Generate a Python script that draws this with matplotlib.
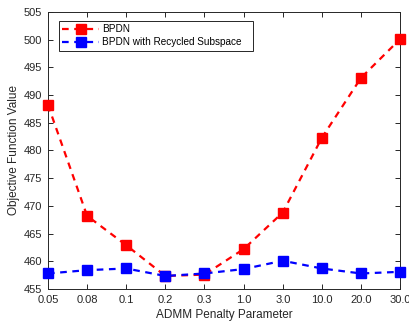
import matplotlib
matplotlib.use("Agg")
import matplotlib.pyplot as plt
import numpy as np

plt.rcParams['font.family'] = ['Liberation Sans', 'DejaVu Sans']

categories = ["0.05", "0.08", "0.1", "0.2", "0.3", "1.0", "3.0", "10.0", "20.0", "30.0"]
bpdn = [488.2, 468.2, 462.9, 457.35, 457.6, 462.2, 468.8, 482.3, 493.1, 500.1]
recycled = [457.8, 458.4, 458.7, 457.35, 457.8, 458.6, 460.1, 458.7, 457.8, 458.1]
yticks = [455, 460, 465, 470, 475, 480, 485, 490, 495, 500, 505]

fig = plt.figure(figsize=(4.10, 3.21), dpi=100)
ax = fig.add_axes([0.117, 0.0997, 0.859, 0.8633])

x = np.arange(len(categories))
ax.plot(x, bpdn, linestyle='--', color='#ff0000', marker='s', markersize=6.5,
        linewidth=1.6, dashes=(3, 2.5), label='BPDN', clip_on=False, zorder=3)
ax.plot(x, recycled, linestyle='--', color='#0000ff', marker='s', markersize=6.5,
        linewidth=1.6, dashes=(3, 2.5), label='BPDN with Recycled Subspace',
        clip_on=False, zorder=3)

ax.set_xlim(0, len(categories) - 1)
ax.set_ylim(455, 505)
ax.set_xticks(x)
ax.set_xticklabels(categories)
ax.set_yticks(yticks)
ax.tick_params(direction='in', top=True, right=True, labelsize=8, length=3.5, width=0.7,
               colors='#262626', pad=4)
for s in ax.spines.values():
    s.set_linewidth(0.7)
    s.set_color('#262626')

ax.set_xlabel('ADMM Penalty Parameter', fontsize=8.5, color='#262626', labelpad=3)
ax.set_ylabel('Objective Function Value', fontsize=8.5, color='#262626', labelpad=3)

leg = ax.legend(loc='upper left', bbox_to_anchor=(0.031, 0.863, 0.55, 0.1047), mode='expand',
                fontsize=7.2, frameon=True, fancybox=False, edgecolor='#262626', framealpha=1,
                borderpad=0.35, labelspacing=0.3, handlelength=3.7, handletextpad=0.3,
                borderaxespad=0)
leg.get_frame().set_linewidth(0.7)
leg.set_zorder(5)

fig.savefig('out.png', dpi=100)
